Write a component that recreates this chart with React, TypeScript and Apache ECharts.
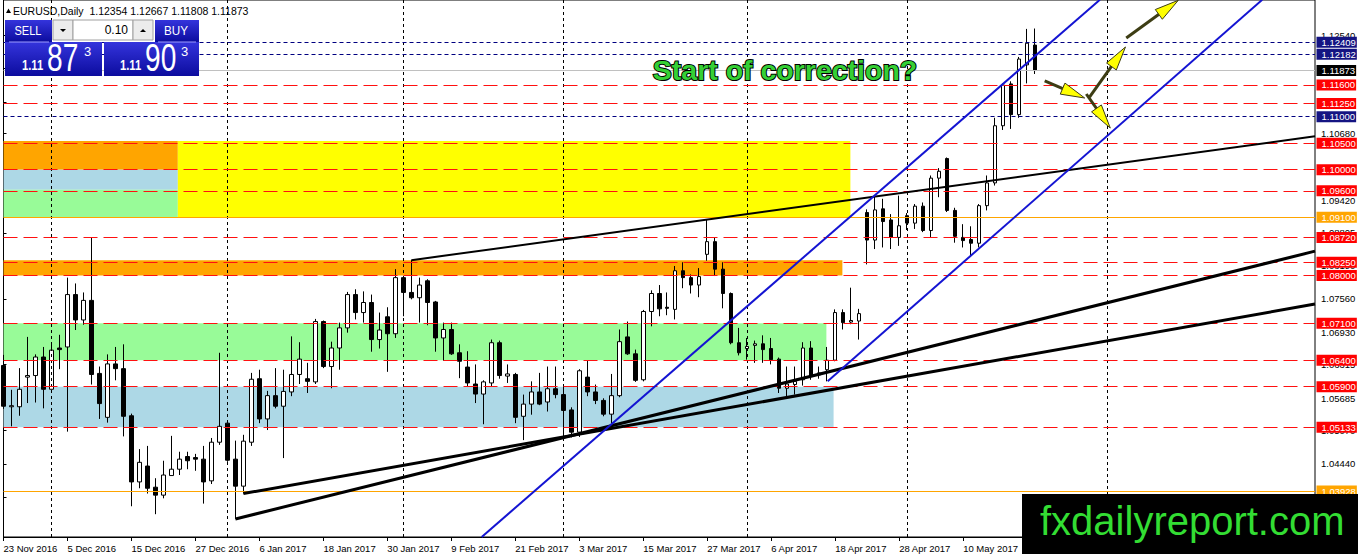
import React, { useEffect, useRef } from 'react';
import * as echarts from 'echarts';

// EURUSD daily bars, 23 Nov 2016 .. 23 May 2017: [open, high, low, close]
const ohlc: number[][] = [
  [1.0630, 1.0650, 1.0548, 1.0553], [1.0552, 1.0584, 1.0515, 1.0554], [1.0552, 1.0625, 1.0535, 1.0585],
  [1.0608, 1.0684, 1.0559, 1.0611], [1.0611, 1.0651, 1.0560, 1.0646], [1.0646, 1.0665, 1.0549, 1.0585],
  [1.0585, 1.0670, 1.0585, 1.0659], [1.0663, 1.0688, 1.0623, 1.0660], [1.0665, 1.0796, 1.0505, 1.0764],
  [1.0764, 1.0785, 1.0697, 1.0716], [1.0716, 1.0768, 1.0707, 1.0753], [1.0753, 1.0872, 1.0594, 1.0613],
  [1.0615, 1.0628, 1.0529, 1.0558], [1.0532, 1.0651, 1.0522, 1.0633], [1.0633, 1.0665, 1.0602, 1.0624],
  [1.0624, 1.0670, 1.0496, 1.0534], [1.0535, 1.0539, 1.0364, 1.0410], [1.0410, 1.0472, 1.0398, 1.0447],
  [1.0440, 1.0478, 1.0388, 1.0398], [1.0400, 1.0417, 1.0349, 1.0385], [1.0385, 1.0450, 1.0379, 1.0423],
  [1.0422, 1.0497, 1.0422, 1.0434], [1.0434, 1.0467, 1.0423, 1.0453], [1.0458, 1.0467, 1.0434, 1.0450],
  [1.0456, 1.0463, 1.0431, 1.0453], [1.0453, 1.0478, 1.0369, 1.0410], [1.0412, 1.0493, 1.0406, 1.0485],
  [1.0485, 1.0654, 1.0480, 1.0515], [1.0521, 1.0523, 1.0448, 1.0451], [1.0453, 1.0488, 1.0340, 1.0402],
  [1.0402, 1.0499, 1.0388, 1.0487], [1.0485, 1.0616, 1.0478, 1.0604], [1.0605, 1.0622, 1.0521, 1.0529],
  [1.0529, 1.0582, 1.0508, 1.0573], [1.0573, 1.0625, 1.0549, 1.0553], [1.0553, 1.0622, 1.0455, 1.0581],
  [1.0580, 1.0685, 1.0572, 1.0613], [1.0613, 1.0674, 1.0595, 1.0642], [1.0605, 1.0635, 1.0578, 1.0600],
  [1.0599, 1.0718, 1.0595, 1.0713], [1.0713, 1.0715, 1.0625, 1.0628], [1.0628, 1.0675, 1.0587, 1.0663],
  [1.0663, 1.0711, 1.0622, 1.0701], [1.0701, 1.0769, 1.0692, 1.0764], [1.0764, 1.0774, 1.0717, 1.0730],
  [1.0730, 1.0770, 1.0711, 1.0749], [1.0749, 1.0764, 1.0656, 1.0679], [1.0679, 1.0730, 1.0662, 1.0697],
  [1.0722, 1.0740, 1.0618, 1.0690], [1.0690, 1.0812, 1.0682, 1.0796], [1.0796, 1.0799, 1.0723, 1.0768],
  [1.0768, 1.0829, 1.0755, 1.0758], [1.0758, 1.0796, 1.0711, 1.0782], [1.0790, 1.0793, 1.0706, 1.0749],
  [1.0750, 1.0752, 1.0656, 1.0682], [1.0682, 1.0711, 1.0639, 1.0698], [1.0698, 1.0711, 1.0650, 1.0652],
  [1.0654, 1.0670, 1.0606, 1.0638], [1.0627, 1.0657, 1.0590, 1.0597], [1.0595, 1.0632, 1.0559, 1.0576],
  [1.0576, 1.0602, 1.0519, 1.0599], [1.0597, 1.0679, 1.0590, 1.0673], [1.0673, 1.0677, 1.0605, 1.0611],
  [1.0610, 1.0632, 1.0597, 1.0614], [1.0613, 1.0616, 1.0521, 1.0532], [1.0534, 1.0575, 1.0489, 1.0557],
  [1.0557, 1.0600, 1.0537, 1.0580], [1.0580, 1.0616, 1.0555, 1.0557], [1.0561, 1.0628, 1.0543, 1.0586],
  [1.0586, 1.0628, 1.0568, 1.0575], [1.0575, 1.0590, 1.0493, 1.0545], [1.0546, 1.0551, 1.0494, 1.0504],
  [1.0504, 1.0623, 1.0495, 1.0620], [1.0608, 1.0640, 1.0572, 1.0580], [1.0580, 1.0594, 1.0557, 1.0564],
  [1.0564, 1.0568, 1.0534, 1.0538], [1.0538, 1.0614, 1.0521, 1.0573], [1.0573, 1.0698, 1.0570, 1.0675],
  [1.0684, 1.0713, 1.0650, 1.0652], [1.0652, 1.0660, 1.0599, 1.0602], [1.0603, 1.0735, 1.0600, 1.0732],
  [1.0732, 1.0772, 1.0704, 1.0766], [1.0766, 1.0782, 1.0723, 1.0737], [1.0740, 1.0768, 1.0725, 1.0738],
  [1.0736, 1.0818, 1.0717, 1.0809], [1.0809, 1.0825, 1.0776, 1.0796], [1.0796, 1.0802, 1.0766, 1.0782],
  [1.0782, 1.0814, 1.0759, 1.0798], [1.0840, 1.0905, 1.0828, 1.0864], [1.0864, 1.0872, 1.0799, 1.0812],
  [1.0812, 1.0825, 1.0738, 1.0766], [1.0766, 1.0768, 1.0670, 1.0673], [1.0673, 1.0701, 1.0649, 1.0654],
  [1.0662, 1.0682, 1.0641, 1.0666], [1.0668, 1.0677, 1.0635, 1.0671], [1.0671, 1.0687, 1.0635, 1.0660],
  [1.0662, 1.0682, 1.0632, 1.0641], [1.0642, 1.0645, 1.0578, 1.0587], [1.0587, 1.0628, 1.0572, 1.0595],
  [1.0594, 1.0628, 1.0575, 1.0600], [1.0603, 1.0674, 1.0592, 1.0663], [1.0663, 1.0676, 1.0603, 1.0609],
  [1.0612, 1.0628, 1.0605, 1.0616], [1.0622, 1.0665, 1.0600, 1.0640], [1.0640, 1.0736, 1.0638, 1.0730],
  [1.0730, 1.0736, 1.0698, 1.0711], [1.0712, 1.0777, 1.0708, 1.0715], [1.0714, 1.0737, 1.0679, 1.0728],
  [1.0919, 1.0925, 1.0821, 1.0867], [1.0867, 1.0951, 1.0850, 1.0924], [1.0926, 1.0945, 1.0853, 1.0902],
  [1.0905, 1.0916, 1.0850, 1.0872], [1.0872, 1.0951, 1.0856, 1.0894], [1.0913, 1.0918, 1.0886, 1.0899],
  [1.0899, 1.0935, 1.0888, 1.0931], [1.0931, 1.0938, 1.0882, 1.0885], [1.0885, 1.0989, 1.0872, 1.0984],
  [1.0984, 1.1003, 1.0948, 1.0997], [1.1021, 1.1023, 1.0920, 1.0923], [1.0923, 1.0928, 1.0862, 1.0874],
  [1.0872, 1.0897, 1.0853, 1.0866], [1.0868, 1.0893, 1.0837, 1.0861], [1.0861, 1.0935, 1.0853, 1.0932],
  [1.0932, 1.0989, 1.0923, 1.0975], [1.0975, 1.1098, 1.0970, 1.1083], [1.1083, 1.1163, 1.1075, 1.1160],
  [1.1162, 1.1167, 1.1077, 1.1104], [1.1104, 1.1213, 1.1098, 1.1209], [1.1198, 1.1266, 1.1163, 1.1239],
  [1.12354, 1.12667, 1.11808, 1.11873],
];

// one label every 8 bars
const dateLabels = [
  '23 Nov 2016', '5 Dec 2016', '15 Dec 2016', '27 Dec 2016', '6 Jan 2017', '18 Jan 2017',
  '30 Jan 2017', '9 Feb 2017', '21 Feb 2017', '3 Mar 2017', '15 Mar 2017', '27 Mar 2017',
  '6 Apr 2017', '18 Apr 2017', '28 Apr 2017', '10 May 2017', '22 May 2017',
];
const slotCount = 165; // bars + empty space on the right
const monthStarts = [6, 28, 50, 70, 93, 113, 138];

const priceTicks = [
  1.1254, 1.1191, 1.1128, 1.1068, 1.1005, 1.0942, 1.08805, 1.0819,
  1.0756, 1.0693, 1.06315, 1.05685, 1.0507, 1.0444, 1.0381,
];
const redLevels = [1.116, 1.1125, 1.105, 1.1, 1.096, 1.0872, 1.0825, 1.08, 1.071, 1.064, 1.059, 1.05133];
const blueLevels = [1.12409, 1.12182, 1.11];
const orangeLevels = [1.091, 1.03928];
const lastPrice = [1.11873];

// zones: [fromBar, toBar, priceA, priceB]
const orangeZoneHigh = [0, 21.8, 1.1054, 1.1];
const blueZoneHigh = [0, 21.8, 1.1, 1.0962];
const greenZoneHigh = [0, 21.8, 1.0962, 1.091];
const yellowZone = [21.8, 105.9, 1.1054, 1.091];
const orangeZoneMid = [0, 104.9, 1.0829, 1.08];
const greenZoneMid = [0, 102.9, 1.071, 1.064];
const blueZoneMid = [0, 103.8, 1.059, 1.05133];

// trend lines: [bar, price] pairs
const supportSteep = [[29, 1.034], [164, 1.0846]];
const supportFlat = [[30, 1.0388], [164, 1.0746]];
const resistance = [[51, 1.0829], [164, 1.1063]];
const channelUpper = [[59.8, 1.0306], [137.1, 1.1321]];
const channelLower = [[103.06, 1.06], [157.4, 1.1321]];

// projection arrows: [fromBar, fromPrice, toBar, toPrice]
const projection = [
  [130.2, 1.11676, 135.2, 1.11354],
  [135.4, 1.1143, 138.4, 1.10787],
  [135.8, 1.11373, 140.3, 1.12318],
  [140.4, 1.12488, 146.9, 1.132],
];

const FONT = 'Liberation Sans';

const blueGrad = () =>
  new echarts.graphic.LinearGradient(0, 0, 0, 1, [
    { offset: 0, color: '#3434dc' },
    { offset: 1, color: '#0c0c9e' },
  ]);

const txt = (text: string, x: number, y: number, size: number, extra: any = {}, scaleX = 1) => ({
  type: 'text',
  x,
  y,
  scaleX,
  z: 60,
  silent: true,
  style: { text, fontSize: size, fontFamily: FONT, fill: '#fff', verticalAlign: 'middle', ...extra },
});

// horizontal price levels with a coloured tag on the price axis
const levelSeries = (values: number[], color: string, type: any, box: string) => ({
  type: 'line',
  xAxisIndex: 1,
  data: [],
  z: 4,
  silent: true,
  color,
  markLine: {
    silent: true,
    precision: 5,
    symbol: ['none', 'none'],
    lineStyle: { color, type, width: 1, opacity: 1 },
    label: {
      show: true,
      position: 'end',
      distance: 1.5,
      formatter: (p: any) => Number(p.value).toFixed(5),
      color: '#fff',
      backgroundColor: box,
      fontSize: 9.5,
      fontFamily: FONT,
      lineHeight: 10,
      padding: [1, 1, 0, 5],
    },
    data: values.map(v => ({ yAxis: v })),
  },
});

export default function App() {
  const ref = useRef<HTMLDivElement>(null);

  useEffect(() => {
    if (!ref.current) return;
    const chart = echarts.init(ref.current, null, { renderer: 'svg' });

    const categories = Array.from({ length: slotCount }, (_, i) =>
      i % 8 === 0 && dateLabels[i / 8] ? dateLabels[i / 8] : `bar ${i}`);
    const isLabel = (i: number) => i % 8 === 0 && i / 8 < dateLabels.length;

    const zones: [number[], string][] = [
      [orangeZoneHigh, '#ffa500'], [blueZoneHigh, '#add8e6'], [greenZoneHigh, '#98fb98'],
      [yellowZone, '#ffff00'], [orangeZoneMid, '#ffa500'], [greenZoneMid, '#98fb98'], [blueZoneMid, '#add8e6'],
    ];

    const trend = (pts: number[][], color: string, width: number) => ({
      type: 'line',
      xAxisIndex: 1,
      data: pts,
      symbol: 'none',
      silent: true,
      clip: true,
      z: 5,
      lineStyle: { color, width },
    });

    const option: any = {
      animation: false,
      backgroundColor: '#ffffff',
      textStyle: { fontFamily: FONT },
      grid: {
        left: 3.5, right: 43, top: 0, bottom: 17,
        show: true, borderColor: '#000', borderWidth: 1, backgroundColor: '#fff',
        outerBoundsMode: 'none',
      },
      xAxis: [
        {
          type: 'category',
          data: categories,
          boundaryGap: false,
          axisLine: { lineStyle: { color: '#000', width: 1 } },
          axisTick: { interval: isLabel, length: 4, lineStyle: { color: '#000' } },
          axisLabel: {
            interval: isLabel, align: 'left', color: '#000', fontSize: 9.5, margin: 6, fontFamily: FONT,
          },
          splitLine: { show: false },
        },
        { type: 'value', min: 0, max: slotCount - 1, show: false },
      ],
      yAxis: {
        type: 'value',
        position: 'right',
        min: 1.03059,
        max: 1.13206,
        axisLine: { show: true, lineStyle: { color: '#000', width: 1 } },
        axisTick: { show: true, customValues: priceTicks, length: 3, lineStyle: { color: '#000' } },
        axisLabel: {
          customValues: priceTicks,
          formatter: (v: number) => v.toFixed(5),
          color: '#000', fontSize: 9.5, margin: 6, fontFamily: FONT,
        },
        splitLine: { show: false },
      },
      series: [
        {
          type: 'line',
          xAxisIndex: 1,
          data: [],
          z: 1,
          silent: true,
          markArea: {
            silent: true,
            label: { show: false },
            data: zones.map(([b, color]) => [
              { xAxis: b[0], yAxis: b[2], itemStyle: { color, opacity: 1 } },
              { xAxis: b[1], yAxis: b[3] },
            ]),
          },
        },
        {
          type: 'line',
          xAxisIndex: 1,
          data: [],
          z: 2,
          silent: true,
          color: '#000',
          markLine: {
            silent: true,
            precision: 2,
            symbol: ['none', 'none'],
            label: { show: false },
            lineStyle: { color: '#000', type: [3, 3], width: 1 },
            data: monthStarts.map(x => ({ xAxis: x })),
          },
        },
        {
          type: 'candlestick',
          z: 3,
          silent: true,
          barWidth: 4,
          data: ohlc.map(([o, h, l, c]) => [o, c, l, h]),
          itemStyle: {
            color: '#ffffff', color0: '#000000', borderColor: '#000000', borderColor0: '#000000', borderWidth: 1,
          },
        },
        levelSeries(redLevels, '#ff1010', [14, 6], '#ff0000'),
        levelSeries(blueLevels, '#000080', [4, 3], '#141482'),
        levelSeries(orangeLevels, '#ffa500', 'solid', '#ffa500'),
        levelSeries(lastPrice, '#c0c0c0', 'solid', '#000000'),
        trend(supportSteep, '#000', 3),
        trend(supportFlat, '#000', 3),
        trend(resistance, '#000', 2),
        trend(channelUpper, '#1414d2', 2),
        trend(channelLower, '#1414d2', 2),
        {
          type: 'custom',
          xAxisIndex: 1,
          z: 6,
          silent: true,
          clip: false,
          encode: { x: [0, 2], y: [1, 3] },
          data: projection,
          renderItem: (_params: any, api: any) => {
            const a = api.coord([api.value(0), api.value(1)]);
            const b = api.coord([api.value(2), api.value(3)]);
            const dx = b[0] - a[0];
            const dy = b[1] - a[1];
            const len = Math.hypot(dx, dy) || 1;
            const ux = dx / len;
            const uy = dy / len;
            const head = 24;
            const half = 6;
            const bx = b[0] - ux * head;
            const by = b[1] - uy * head;
            return {
              type: 'group',
              children: [
                {
                  type: 'line',
                  shape: { x1: a[0], y1: a[1], x2: bx + ux * 4, y2: by + uy * 4 },
                  style: { stroke: '#3d3d14', lineWidth: 3 },
                },
                {
                  type: 'polygon',
                  shape: { points: [[b[0], b[1]], [bx - uy * half, by + ux * half], [bx + uy * half, by - ux * half]] },
                  style: { fill: '#ffff00', stroke: '#3d3d14', lineWidth: 1 },
                },
              ],
            };
          },
        },
      ],
      graphic: [
        // header
        { type: 'polygon', z: 60, silent: true, shape: { points: [[6, 13], [11, 13], [8.5, 8.5]] }, style: { fill: '#000' } },
        txt('EURUSD,Daily  1.12354 1.12667 1.11808 1.11873', 13, 10.5, 10.5, { fill: '#000' }),
        // trade panel
        { type: 'rect', z: 58, silent: true, shape: { x: 5, y: 20, width: 47, height: 22 }, style: { fill: blueGrad() } },
        { type: 'rect', z: 58, silent: true, shape: { x: 5, y: 42, width: 97, height: 34 }, style: { fill: blueGrad() } },
        { type: 'rect', z: 58, silent: true, shape: { x: 155, y: 20, width: 44, height: 22 }, style: { fill: blueGrad() } },
        { type: 'rect', z: 58, silent: true, shape: { x: 104, y: 42, width: 95, height: 34 }, style: { fill: blueGrad() } },
        { type: 'line', z: 59, silent: true, shape: { x1: 9, y1: 42, x2: 49, y2: 42 }, style: { stroke: '#9c9cff', lineWidth: 1 } },
        { type: 'line', z: 59, silent: true, shape: { x1: 158, y1: 42, x2: 196, y2: 42 }, style: { stroke: '#9c9cff', lineWidth: 1 } },
        { type: 'rect', z: 58, silent: true, shape: { x: 53, y: 20, width: 20, height: 20 }, style: { fill: '#ececec', stroke: '#a0a0a0' } },
        { type: 'rect', z: 58, silent: true, shape: { x: 73, y: 20, width: 60, height: 20 }, style: { fill: '#ffffff', stroke: '#a0a0a0' } },
        { type: 'rect', z: 58, silent: true, shape: { x: 133, y: 20, width: 20, height: 20 }, style: { fill: '#ececec', stroke: '#a0a0a0' } },
        { type: 'polygon', z: 60, silent: true, shape: { points: [[60, 29], [66, 29], [63, 32]] }, style: { fill: '#000' } },
        { type: 'polygon', z: 60, silent: true, shape: { points: [[140, 32], [146, 32], [143, 29]] }, style: { fill: '#000' } },
        txt('0.10', 128, 30, 12, { fill: '#000', align: 'right' }),
        txt('SELL', 28, 31, 13, { align: 'center' }, 0.85),
        txt('BUY', 176, 31, 13, { align: 'center' }, 0.9),
        txt('1.11', 22, 66, 14, { fontWeight: 'bold' }, 0.8),
        txt('87', 47, 58, 38, {}, 0.74),
        txt('3', 84, 51, 13),
        txt('1.11', 120, 66, 14, { fontWeight: 'bold' }, 0.8),
        txt('90', 145, 58, 38, {}, 0.74),
        txt('3', 181, 51, 13),
        // annotation
        txt('Start of correction?', 785, 70, 28.5, {
          align: 'center', fontWeight: 'bold', fill: '#35d035', stroke: '#000', lineWidth: 2,
        }),
        // watermark box
        { type: 'rect', z: 70, silent: true, shape: { x: 1022, y: 494, width: 336, height: 60 }, style: { fill: '#000' } },
        { ...txt('fxdailyreport.com', 1040, 521, 40, { fill: '#33dd33' }), z: 71 },
      ],
    };

    chart.setOption(option);
    return () => chart.dispose();
  }, []);

  return (
    <div
      ref={ref}
      style={{ position: 'fixed', left: 0, top: 0, width: 1358, height: 554, background: '#fff' }}
    />
  );
}
